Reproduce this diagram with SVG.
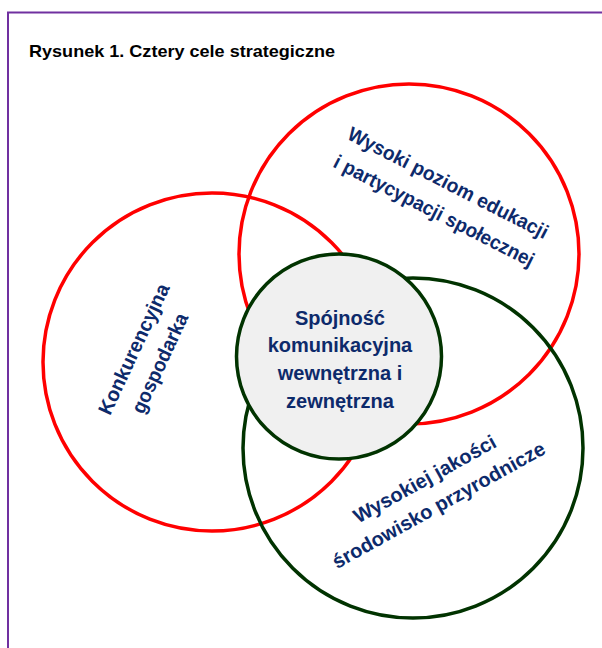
<svg xmlns="http://www.w3.org/2000/svg" width="602" height="648" viewBox="0 0 602 648">
<style>
.frame{fill:none;stroke:#7030a0;stroke-width:2}
.title{font-family:"Liberation Sans",Arial,sans-serif;font-weight:bold;font-size:17px;fill:#000}
.red{fill:none;stroke:#ff0000;stroke-width:3.5}
.green{fill:none;stroke:#013300;stroke-width:3.5}
.core{fill:#f0f0f0;stroke:#013300;stroke-width:3.5}
.lbl{font-family:"Liberation Sans",Arial,sans-serif;font-weight:bold;font-size:20px;fill:#0d2a6b;text-anchor:middle}
</style>
<rect class="frame" x="8" y="12.5" width="620" height="660"/>
<text class="title" x="29" y="57" textLength="306" lengthAdjust="spacingAndGlyphs">Rysunek 1. Cztery cele strategiczne</text>
<g id="edukacja">
<circle class="red" cx="409" cy="254" r="170"/>
<text class="lbl" transform="translate(445,189) rotate(27)" textLength="222" lengthAdjust="spacingAndGlyphs">Wysoki poziom edukacji</text>
<text class="lbl" transform="translate(431,217) rotate(27)" textLength="222" lengthAdjust="spacingAndGlyphs">i partycypacji społecznej</text>
</g>
<g id="gospodarka">
<circle class="red" cx="212" cy="362" r="169"/>
<text class="lbl" transform="translate(140,352) rotate(-65)" textLength="142" lengthAdjust="spacingAndGlyphs">Konkurencyjna</text>
<text class="lbl" transform="translate(166,366) rotate(-65)" textLength="108" lengthAdjust="spacingAndGlyphs">gospodarka</text>
</g>
<g id="srodowisko">
<circle class="green" cx="413" cy="448" r="170"/>
<text class="lbl" transform="translate(428,485) rotate(-29)">Wysokiej jakości</text>
<text class="lbl" transform="translate(442,511) rotate(-29)">środowisko przyrodnicze</text>
</g>
<g id="spojnosc">
<circle class="core" cx="339" cy="356.5" r="102.5"/>
<text class="lbl" x="340" y="325">Spójność</text>
<text class="lbl" x="340" y="352">komunikacyjna</text>
<text class="lbl" x="340" y="380">wewnętrzna i</text>
<text class="lbl" x="340" y="408">zewnętrzna</text>
</g>
<g id="connectors"/>
</svg>
